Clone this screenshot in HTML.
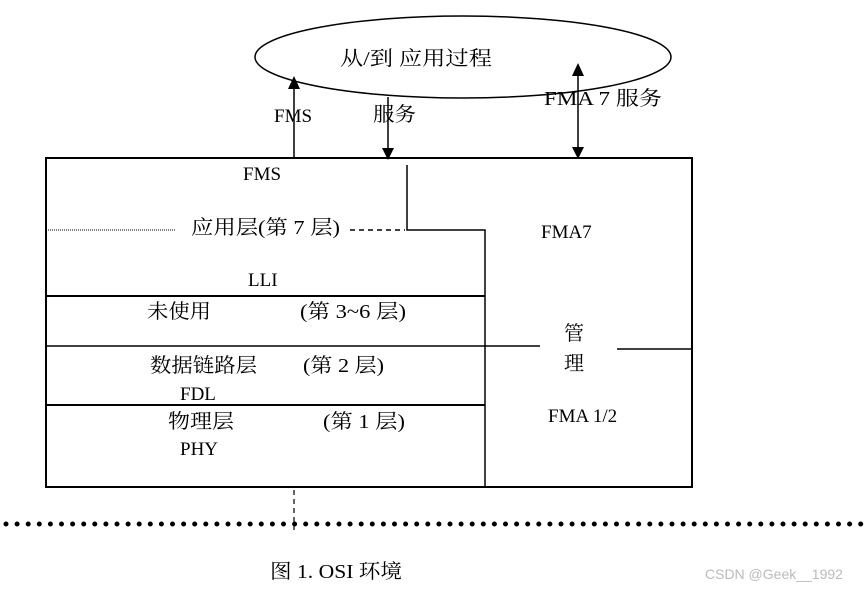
<!DOCTYPE html>
<html><head><meta charset="utf-8"><style>
body{margin:0;background:#fff;}
svg text{font-family:"Liberation Serif","Noto Serif CJK SC","Noto Sans CJK SC",serif;font-size:19px;fill:#000;}
</style></head><body>
<svg width="868" height="588" viewBox="0 0 868 588" xmlns="http://www.w3.org/2000/svg">
<ellipse cx="463" cy="57" rx="208" ry="41" fill="none" stroke="#000" stroke-width="1.5"/>
<text x="340" y="65" textLength="152" lengthAdjust="spacingAndGlyphs" style="font-size:20px">从/到 应用过程</text>
<line x1="294" y1="158" x2="294" y2="88" stroke="#000" stroke-width="1.5"/>
<path d="M288,89 L300,89 L294,76 z" fill="#000"/>
<line x1="388" y1="97" x2="388" y2="150" stroke="#000" stroke-width="1.5"/>
<path d="M382,148 L394,148 L388,160 z" fill="#000"/>
<line x1="578" y1="75" x2="578" y2="148" stroke="#000" stroke-width="1.5"/>
<path d="M572,76 L584,76 L578,63 z" fill="#000"/>
<path d="M572,147 L584,147 L578,159 z" fill="#000"/>
<text x="274" y="122">FMS</text>
<text x="373" y="121" textLength="43" lengthAdjust="spacingAndGlyphs" style="font-size:20px">服务</text>
<text x="544" y="105" textLength="118" lengthAdjust="spacingAndGlyphs" style="font-size:20px">FMA 7 服务</text>
<rect x="46" y="158" width="646" height="329" fill="none" stroke="#000" stroke-width="2"/>
<polyline points="407,165 407,230 485,230 485,487" fill="none" stroke="#000" stroke-width="1.5"/>
<line x1="46" y1="296" x2="485" y2="296" stroke="#000" stroke-width="2"/>
<line x1="46" y1="346" x2="540" y2="346" stroke="#000" stroke-width="1.5"/>
<line x1="617" y1="349" x2="692" y2="349" stroke="#000" stroke-width="1.5"/>
<line x1="46" y1="405" x2="485" y2="405" stroke="#000" stroke-width="2"/>
<line x1="48" y1="230" x2="176" y2="230" stroke="#000" stroke-width="1" stroke-dasharray="1,1"/>
<line x1="350" y1="230" x2="405" y2="230" stroke="#000" stroke-width="1.5" stroke-dasharray="5,4"/>
<text x="243" y="180">FMS</text>
<text x="191" y="234" textLength="149" lengthAdjust="spacingAndGlyphs" style="font-size:20px">应用层(第 7 层)</text>
<text x="248" y="286">LLI</text>
<text x="147" y="318" textLength="64" lengthAdjust="spacingAndGlyphs" style="font-size:20px">未使用</text>
<text x="300" y="318" textLength="106" lengthAdjust="spacingAndGlyphs" style="font-size:20px">(第 3~6 层)</text>
<text x="150" y="372" textLength="107" lengthAdjust="spacingAndGlyphs" style="font-size:20px">数据链路层</text>
<text x="303" y="372" textLength="81" lengthAdjust="spacingAndGlyphs" style="font-size:20px">(第 2 层)</text>
<text x="180" y="400">FDL</text>
<text x="168" y="428" textLength="66" lengthAdjust="spacingAndGlyphs" style="font-size:20px">物理层</text>
<text x="323" y="428" textLength="82" lengthAdjust="spacingAndGlyphs" style="font-size:20px">(第 1 层)</text>
<text x="180" y="455">PHY</text>
<text x="541" y="238">FMA7</text>
<text x="564" y="340" style="font-size:20px">管</text>
<text x="564" y="370" style="font-size:20px">理</text>
<text x="548" y="422">FMA 1/2</text>
<line x1="294" y1="490" x2="294" y2="530" stroke="#000" stroke-width="1.2" stroke-dasharray="5,4"/>
<line x1="6" y1="524" x2="866" y2="524" stroke="#000" stroke-width="5" stroke-linecap="round" stroke-dasharray="0,11.1"/>
<text x="270" y="578" textLength="132" lengthAdjust="spacingAndGlyphs" style="font-size:20px">图 1. OSI 环境</text>
<text x="705" y="579" style="font-family:'Liberation Sans',sans-serif;font-size:14px;fill:#bbb">CSDN @Geek__1992</text>
</svg>
</body></html>
